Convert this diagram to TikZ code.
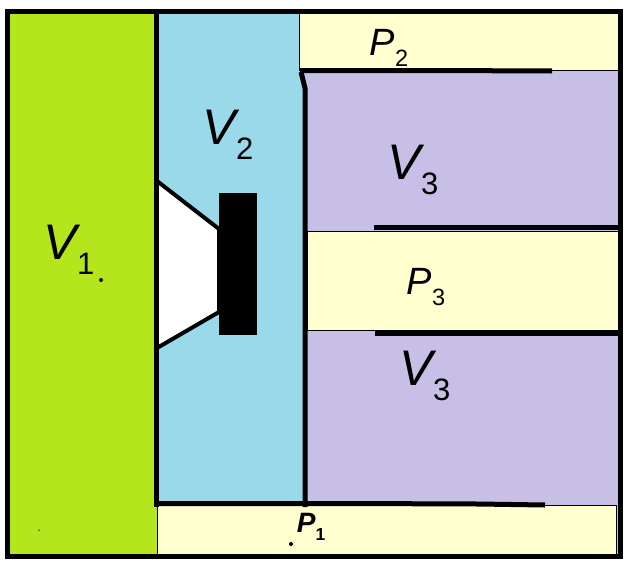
\documentclass[tikz,border=0pt]{standalone}
\usepackage{fontspec}
\setmainfont{Liberation Sans}
\tikzset{%
  chamber/.style = {line width=0pt},%
  wall/.style    = {draw=black,line width=5pt},%
  thin wall/.style = {draw=black,line width=1pt},%
  speck/.style   = {circle,fill=black,inner sep=0pt,minimum size=4pt},%
  volume/.style  = {font=\fontsize{50}{50}\selectfont\itshape,inner sep=0pt},%
  port/.style    = {font=\fontsize{38}{38}\selectfont\itshape,inner sep=0pt},%
  smallport/.style = {font=\fontsize{28}{28}\selectfont\itshape\bfseries,inner sep=0pt}%
}
\definecolor{vgreen}{HTML}{B5E61D}
\definecolor{vblue}{HTML}{99D9EA}
\definecolor{vpurple}{HTML}{C8BFE7}
\definecolor{pyellow}{HTML}{FFFFCF}
\newcommand{\sublab}[2]{#1\raisebox{-.3em}{\scalebox{.62}{\upshape #2}}}
\begin{document}
\begin{tikzpicture}[x=1pt,y=-1pt]
	\useasboundingbox (0,0) rectangle (634,570);
	% regions
	\fill[vgreen] (8,12) rectangle (157,555);
	\fill[vblue] (157,12) rectangle (305,504);
	\fill[vpurple] (305,70) rectangle (619,555);
	\filldraw[fill=pyellow,thin wall] (299,13) rectangle (618,70);
	\filldraw[fill=pyellow,thin wall] (307,231) rectangle (622,330);
	\filldraw[fill=pyellow,thin wall] (157,505) rectangle (616,555);
	% horn and magnet
	\filldraw[fill=white,draw=black,line width=4pt] (157,181) -- (219,229) -- (219,312) -- (157,348);
	\fill[black] (219,193) rectangle (257,335);
	% outline
	\draw[wall] (7.5,11.5) rectangle (620.5,556.5);
	% walls
	\draw[wall] (156.5,11) -- (156.5,507);
	\draw[wall] (154,503.5) -- (350,503.5) -- (478,504) -- (545,505);
	\draw[wall] (300,70.5) -- (433,70.5) -- (552,71);
	\draw[wall] (301,72) -- (305,88) -- (305,507);
	\draw[wall] (374,227.5) -- (620,227.5);
	\draw[wall] (375,333) -- (620,333);
	% labels
	\node[volume] (v1) at (69,250) {\sublab{V}{1}};
	\node[volume] (v2) at (228,135) {\sublab{V}{2}};
	\node[volume] (v3a) at (413,170) {\sublab{V}{3}};
	\node[volume] (v3b) at (425,376) {\sublab{V}{3}};
	\node[port] (p2) at (389,48) {\sublab{P}{2}};
	\node[port] (p3) at (426,287) {\sublab{P}{3}};
	\node[smallport] (p1) at (311,527) {\sublab{P}{1}};
	\node[speck] (s1) at (101,280) {};
	\node[speck] (s2) at (291,544) {};
	\node[speck,minimum size=1.5pt] (s3) at (39,530) {};
\end{tikzpicture}
\end{document}
